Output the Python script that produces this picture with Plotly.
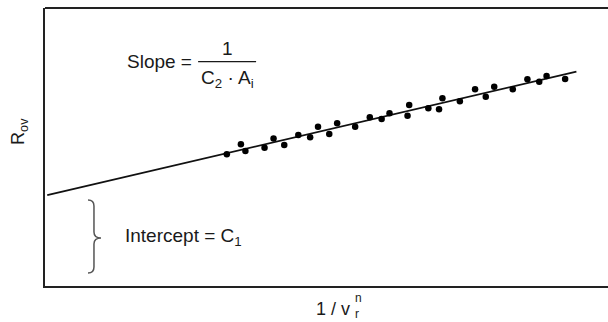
import plotly.graph_objects as go

# Data (arbitrary units)
pts_x = [3.23, 3.48, 3.56, 3.90, 4.06, 4.25, 4.50, 4.71, 4.85, 5.05, 5.19, 5.51,
         5.77, 5.98, 6.12, 6.47, 6.44, 6.81, 7.00, 7.06, 7.37, 7.64, 7.83, 7.98,
         8.31, 8.57, 8.78, 8.91, 9.24]
pts_y = [4.74, 5.10, 4.86, 4.97, 5.31, 5.07, 5.43, 5.35, 5.73, 5.47, 5.85, 5.73,
         6.07, 6.01, 6.21, 6.51, 6.12, 6.39, 6.36, 6.75, 6.65, 7.08, 6.81, 7.17,
         7.08, 7.44, 7.35, 7.55, 7.45]
fit_x = [0.04, 9.44]
fit_y = [3.27, 7.71]

FONT = "Liberation Sans, Arial, sans-serif"
TXT = "#1a1a1a"

fig = go.Figure()
fig.add_trace(go.Scatter(x=fit_x, y=fit_y, mode="lines",
                         line=dict(color="#111111", width=1.8), hoverinfo="skip"))
fig.add_trace(go.Scatter(x=pts_x, y=pts_y, mode="markers",
                         marker=dict(color="#000000", size=6.5), hoverinfo="skip"))

# plot area extends past the 608 px window so its right edge is hidden
fig.update_layout(
    width=640, height=322,
    margin=dict(l=45, r=0, t=8, b=36),
    paper_bgcolor="white", plot_bgcolor="white",
    showlegend=False,
    font=dict(family=FONT, color=TXT),
    xaxis=dict(range=[0, 10.57], showgrid=False, zeroline=False, showticklabels=False,
               ticks="", showline=True, linecolor="#222222", linewidth=2, mirror=False),
    yaxis=dict(range=[0, 10], showgrid=False, zeroline=False, showticklabels=False,
               ticks="", showline=True, linecolor="#222222", linewidth=2, mirror=False),
)
fig.add_shape(type="line", xref="paper", yref="paper", x0=0, x1=1, y0=1, y1=1,
              line=dict(color="#222222", width=2))

# Slope annotation
fig.add_annotation(x=1.42, y=8.07, xref="x", yref="y", text="Slope =", showarrow=False,
                   xanchor="left", yanchor="middle", font=dict(size=19, family=FONT, color=TXT))
fig.add_shape(type="line", x0=2.72, x1=3.75, y0=8.07, y1=8.07, xref="x", yref="y",
              line=dict(color=TXT, width=1.2))
fig.add_annotation(x=3.245, y=8.56, xref="x", yref="y", text="1", showarrow=False,
                   xanchor="center", yanchor="middle", font=dict(size=19, family=FONT, color=TXT))
fig.add_annotation(x=3.245, y=7.45, xref="x", yref="y", text="C<sub>2</sub> · A<sub>i</sub>",
                   showarrow=False, xanchor="center", yanchor="middle",
                   font=dict(size=19, family=FONT, color=TXT))

# Intercept annotation
fig.add_annotation(x=1.385, y=1.76, xref="x", yref="y", text="Intercept = C<sub>1</sub>",
                   showarrow=False, xanchor="left", yanchor="middle",
                   font=dict(size=19, family=FONT, color=TXT))
brace = ("M 0.764,3.094 Q 0.870,3.094 0.870,2.878 L 0.870,1.942 "
         "Q 0.870,1.727 0.995,1.727 Q 0.870,1.727 0.870,1.511 "
         "L 0.870,0.683 Q 0.870,0.468 0.764,0.468")
fig.add_shape(type="path", path=brace, xref="x", yref="y",
              line=dict(color="#555555", width=1.5))

# Axis titles
PW = 595.0
fig.add_annotation(x=-25 / PW, y=0.558, xref="paper", yref="paper", text="R<sub>ov</sub>",
                   showarrow=False, textangle=-90, xanchor="center", yanchor="middle",
                   font=dict(size=18, family=FONT, color=TXT))
fig.add_annotation(x=(352 - 45) / PW, y=-(309 - 286) / 278, xref="paper", yref="paper",
                   text="1 / v", showarrow=False, xanchor="right", yanchor="middle",
                   font=dict(size=18, family=FONT, color=TXT))
fig.add_annotation(x=(353 - 45) / PW, y=-(298 - 286) / 278, xref="paper", yref="paper",
                   text="n", showarrow=False, xanchor="left", yanchor="middle",
                   font=dict(size=12, family=FONT, color=TXT))
fig.add_annotation(x=(353 - 45) / PW, y=-(314 - 286) / 278, xref="paper", yref="paper",
                   text="r", showarrow=False, xanchor="left", yanchor="middle",
                   font=dict(size=12, family=FONT, color=TXT))

fig.write_html("out.html", config={"displayModeBar": False, "staticPlot": True},
               post_script="document.body.style.margin='0';"
               "document.body.style.overflow='hidden';"
               "document.documentElement.style.overflow='hidden';")
